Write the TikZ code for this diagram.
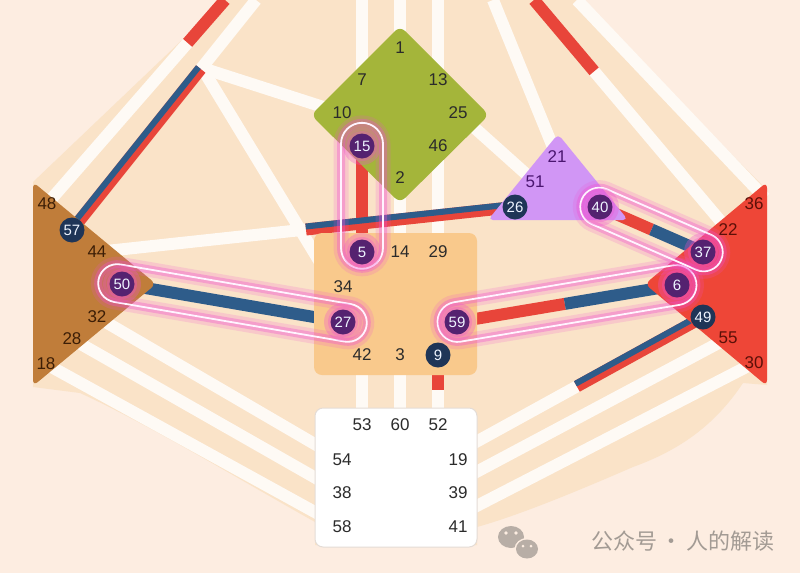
\documentclass[tikz,border=0pt]{standalone}
\usepackage{fontspec}
\setmainfont{Liberation Sans}
\newfontfamily\cjkfont{Noto Sans CJK SC}
\usetikzlibrary{calc,shapes.misc}

\begin{document}
\begin{tikzpicture}[x=1pt,y=-1pt,line cap=butt,
  chan/.style={line width=12pt, custcol_fe_fa_f5},
  redch/.style={line width=12pt, custcol_e8_45_3a},
  bluech/.style={line width=12pt, custcol_2e_5c_8a},
  halfblue/.style={line width=6pt, custcol_2e_5c_8a},
  gate/.style={inner sep=0, outer sep=0, font=\fontsize{17pt}{17pt}\selectfont},
  badge/.style={circle, inner sep=0, outer sep=0, minimum size=25pt, fill=custcol_1f_35_57, text=custcol_ee_f4_ff, font=\fontsize{15pt}{15pt}\selectfont},
  hibadge/.style={badge, fill=custcol_55_22_70},
  halo/.style={custcol_f0_50_d0, opacity=0.3},
  capsule/.style={rounded rectangle, inner sep=0, draw=custcol_ff_f4_ff, line width=1.8pt,
    preaction={draw=custcol_f0_50_d0, line width=15pt, draw opacity=0.18},
    preaction={draw=custcol_f0_50_d0, line width=8pt, draw opacity=0.35}},
  hubshape/.style={rounded corners=7pt}
]
\useasboundingbox (0,0) rectangle (800,573);
\definecolor{custcol_fd_ed_e1}{RGB}{253, 237, 225}
\definecolor{custcol_fa_e3_c8}{RGB}{250, 227, 200}
\definecolor{custcol_fe_fa_f5}{RGB}{254, 250, 245}
\definecolor{custcol_e8_45_3a}{RGB}{232, 69, 58}
\definecolor{custcol_2e_5c_8a}{RGB}{46, 92, 138}
\definecolor{custcol_a4_b5_3a}{RGB}{164, 181, 58}
\definecolor{custcol_f9_c9_8c}{RGB}{249, 201, 140}
\definecolor{custcol_c0_7d_3a}{RGB}{192, 125, 58}
\definecolor{custcol_ee_46_37}{RGB}{238, 70, 55}
\definecolor{custcol_d1_96_f5}{RGB}{209, 150, 245}
\definecolor{custcol_e4_dc_d6}{RGB}{228, 220, 214}
\definecolor{custcol_1f_35_57}{RGB}{31, 53, 87}
\definecolor{custcol_55_22_70}{RGB}{85, 34, 112}
\definecolor{custcol_f0_50_d0}{RGB}{240, 80, 208}
\definecolor{custcol_ff_f4_ff}{RGB}{255, 244, 255}
\definecolor{custcol_ee_f4_ff}{RGB}{238, 244, 255}
\definecolor{custcol_2b_2b_2b}{RGB}{43, 43, 43}
\definecolor{custcol_3c_1e_06}{RGB}{60, 30, 6}
\definecolor{custcol_5c_10_08}{RGB}{92, 16, 8}
\definecolor{custcol_4b_16_70}{RGB}{75, 22, 112}
\definecolor{custcol_b8_ae_a6}{RGB}{184, 174, 166}
\definecolor{custcol_a3_9b_94}{RGB}{163, 155, 148}
% background and body
\fill[custcol_fd_ed_e1] (0,0) rectangle (800,573);
\fill[custcol_fa_e3_c8] (224,0) -- (577,0) -- (767,190) -- (767,385) -- (743,383)
  .. controls (715,425) and (680,450) .. (633,467) .. controls (580,490) and (520,515) .. (477,527)
  -- (477,545) -- (315,545) -- (315,522) .. controls (240,480) and (150,425) .. (80,393) -- (33,387) -- (33,182) -- cycle;
% gates, G center
\coordinate (g1) at (400,48);
\coordinate (g7) at (362,80);
\coordinate (g13) at (438,80);
\coordinate (g10) at (342,113);
\coordinate (g25) at (458,113);
\coordinate (g15) at (362,146);
\coordinate (g46) at (438,146);
\coordinate (g2) at (400,178);
% sacral
\coordinate (g5) at (362,252);
\coordinate (g14) at (400,252);
\coordinate (g29) at (438,252);
\coordinate (g34) at (343,287);
\coordinate (g27) at (343,322);
\coordinate (g59) at (457,322);
\coordinate (g42) at (362,355);
\coordinate (g3) at (400,355);
\coordinate (g9) at (438,355);
% root
\coordinate (g53) at (362,425);
\coordinate (g60) at (400,425);
\coordinate (g52) at (438,425);
\coordinate (g54) at (342,460);
\coordinate (g19) at (458,460);
\coordinate (g38) at (342,493);
\coordinate (g39) at (458,493);
\coordinate (g58) at (342,527);
\coordinate (g41) at (458,527);
% spleen
\coordinate (g48) at (47,204);
\coordinate (g57) at (72,230);
\coordinate (g44) at (97,252);
\coordinate (g50) at (122,284);
\coordinate (g32) at (97,317);
\coordinate (g28) at (72,339);
\coordinate (g18) at (46,364);
% solar plexus
\coordinate (g36) at (754,204);
\coordinate (g22) at (728,230);
\coordinate (g37) at (703,252);
\coordinate (g6) at (677,285);
\coordinate (g49) at (703,317);
\coordinate (g55) at (728,338);
\coordinate (g30) at (754,363);
% ego
\coordinate (g21) at (557,157);
\coordinate (g51) at (535,182);
\coordinate (g26) at (515,207);
\coordinate (g40) at (600,207);
% free ends
\coordinate (t31) at (362,0);
\coordinate (t8) at (400,0);
\coordinate (t33) at (438,0);
\coordinate (t16) at (225,0);
\coordinate (t20) at (256,0);
\coordinate (t45) at (493,0);
\coordinate (t12) at (534,0);
\coordinate (t35) at (577,0);
\coordinate (jn) at (202,68);
\coordinate (in34) at (335,287);
\coordinate (in36) at (765,198);
\coordinate (r19) at (465,448);
\coordinate (r39) at (465,478);
\coordinate (r41) at (465,512);
\coordinate (c9) at (438,390);
\coordinate (m16) at ($(g48)!0.79!(t16)$);
\coordinate (m20) at ($(g57)!0.7!(t20)$);
\coordinate (m12) at ($(g22)!0.69!(t12)$);
\coordinate (m26) at ($(g44)!0.5!(g26)$);
\coordinate (m19) at ($(r19)!0.47!(g49)$);
\coordinate (m6) at ($(g59)!0.49!(g6)$);
\coordinate (m37) at ($(g40)!0.5!(g37)$);
% channels
\draw[chan] (t31) -- (g7);
\draw[chan] (t8) -- (g1);
\draw[chan] (t33) -- (g13);
\draw[chan] (t45) -- (g21);
\draw[chan] (t35) -- (in36);
\draw[chan] (g22) -- (m12);
\draw[redch] (m12) -- (t12);
\draw[chan] (g48) -- (m16);
\draw[redch] (m16) -- (t16);
\draw[chan] (jn) -- (g10);
\draw[chan] (jn) -- (in34);
\draw[chan] (m20) -- (t20);
\draw[redch] (g57) -- (m20);
\draw[halfblue] ($(g57)!3pt!90:(m20)$) -- ($(m20)!3pt!-90:(g57)$);
\draw[chan] (g25) -- (g51);
\draw[chan] (g2) -- (g14);
\draw[chan] (g46) -- (g29);
\draw[redch] (g15) -- (g5);
\draw[chan] (g44) -- (m26);
\draw[redch] (m26) -- (g26);
\draw[halfblue] ($(m26)!3pt!90:(g26)$) -- ($(g26)!3pt!-90:(m26)$);
\draw[chan] (g42) -- (g53);
\draw[chan] (g3) -- (g60);
\draw[chan] (g9) -- (g52);
\draw[redch] (g9) -- (c9);
\draw[bluech] (g50) -- (g27);
\draw[redch] (g59) -- (m6);
\draw[bluech] (m6) -- (g6);
\draw[redch] (g40) -- (m37);
\draw[bluech] (m37) -- (g37);
\draw[chan] (g32) -- (g54);
\draw[chan] (g28) -- (g38);
\draw[chan] (g18) -- (g58);
\draw[chan] (r19) -- (m19);
\draw[redch] (m19) -- (g49);
\draw[halfblue] ($(m19)!3pt!90:(g49)$) -- ($(g49)!3pt!-90:(m19)$);
\draw[chan] (r39) -- (g55);
\draw[chan] (r41) -- (g30);
% centers
\fill[custcol_a4_b5_3a, hubshape] (400,26) -- (489,115) -- (400,203) -- (311,115) -- cycle;
\fill[custcol_f9_c9_8c, rounded corners=8pt] (314,233) rectangle (477,375);
\filldraw[fill=white, draw=custcol_e4_dc_d6, line width=1pt, rounded corners=8pt] (315,408) rectangle (477,547);
\fill[custcol_c0_7d_3a, rounded corners=6pt] (33,182) -- (156,284) -- (33,386) -- cycle;
\fill[custcol_ee_46_37, rounded corners=6pt] (767,182) -- (767,386) -- (645,284) -- cycle;
\fill[custcol_d1_96_f5, rounded corners=5pt] (558,134) -- (628,220) -- (488,220) -- cycle;
% highlighted pairs
\path (g15) -- (g5) node[capsule, pos=0.47, sloped, minimum width=146pt, minimum height=42pt] (cap15) {};
\path (g50) -- (g27) node[capsule, midway, sloped, minimum width=272pt, minimum height=38pt] (cap50) {};
\path (g59) -- (g6) node[capsule, midway, sloped, minimum width=262pt, minimum height=40pt] (cap59) {};
\path (g40) -- (g37) node[capsule, midway, sloped, minimum width=152pt, minimum height=38pt] (cap40) {};
\fill[halo] (g15) circle (19);
\fill[halo] (g5) circle (19);
\fill[halo] (g50) circle (19);
\fill[halo] (g27) circle (19);
\fill[halo] (g59) circle (19);
\fill[halo] (g6) circle (19);
\fill[halo] (g40) circle (19);
\fill[halo] (g37) circle (19);
\fill[halo] (g15) circle (15);
\fill[halo] (g5) circle (15);
\fill[halo] (g50) circle (15);
\fill[halo] (g27) circle (15);
\fill[halo] (g59) circle (15);
\fill[halo] (g6) circle (15);
\fill[halo] (g40) circle (15);
\fill[halo] (g37) circle (15);
% labels, G
\node[gate, text=custcol_2b_2b_2b] (n1) at (g1) {1};
\node[gate, text=custcol_2b_2b_2b] (n7) at (g7) {7};
\node[gate, text=custcol_2b_2b_2b] (n13) at (g13) {13};
\node[gate, text=custcol_2b_2b_2b] (n10) at (g10) {10};
\node[gate, text=custcol_2b_2b_2b] (n25) at (g25) {25};
\node[hibadge] (n15) at (g15) {15};
\node[gate, text=custcol_2b_2b_2b] (n46) at (g46) {46};
\node[gate, text=custcol_2b_2b_2b] (n2) at (g2) {2};
% sacral
\node[hibadge] (n5) at (g5) {5};
\node[gate, text=custcol_2b_2b_2b] (n14) at (g14) {14};
\node[gate, text=custcol_2b_2b_2b] (n29) at (g29) {29};
\node[gate, text=custcol_2b_2b_2b] (n34) at (g34) {34};
\node[hibadge] (n27) at (g27) {27};
\node[hibadge] (n59) at (g59) {59};
\node[gate, text=custcol_2b_2b_2b] (n42) at (g42) {42};
\node[gate, text=custcol_2b_2b_2b] (n3) at (g3) {3};
\node[badge] (n9) at (g9) {9};
% root
\node[gate, text=custcol_2b_2b_2b] (n53) at (g53) {53};
\node[gate, text=custcol_2b_2b_2b] (n60) at (g60) {60};
\node[gate, text=custcol_2b_2b_2b] (n52) at (g52) {52};
\node[gate, text=custcol_2b_2b_2b] (n54) at (g54) {54};
\node[gate, text=custcol_2b_2b_2b] (n19) at (g19) {19};
\node[gate, text=custcol_2b_2b_2b] (n38) at (g38) {38};
\node[gate, text=custcol_2b_2b_2b] (n39) at (g39) {39};
\node[gate, text=custcol_2b_2b_2b] (n58) at (g58) {58};
\node[gate, text=custcol_2b_2b_2b] (n41) at (g41) {41};
% spleen
\node[gate, text=custcol_3c_1e_06] (n48) at (g48) {48};
\node[badge] (n57) at (g57) {57};
\node[gate, text=custcol_3c_1e_06] (n44) at (g44) {44};
\node[hibadge] (n50) at (g50) {50};
\node[gate, text=custcol_3c_1e_06] (n32) at (g32) {32};
\node[gate, text=custcol_3c_1e_06] (n28) at (g28) {28};
\node[gate, text=custcol_3c_1e_06] (n18) at (g18) {18};
% solar plexus
\node[gate, text=custcol_5c_10_08] (n36) at (g36) {36};
\node[gate, text=custcol_5c_10_08] (n22) at (g22) {22};
\node[hibadge] (n37) at (g37) {37};
\node[hibadge] (n6) at (g6) {6};
\node[badge] (n49) at (g49) {49};
\node[gate, text=custcol_5c_10_08] (n55) at (g55) {55};
\node[gate, text=custcol_5c_10_08] (n30) at (g30) {30};
% ego
\node[gate, text=custcol_4b_16_70] (n21) at (g21) {21};
\node[gate, text=custcol_4b_16_70] (n51) at (g51) {51};
\node[badge] (n26) at (g26) {26};
\node[hibadge] (n40) at (g40) {40};
% watermark
\fill[custcol_b8_ae_a6] (511,537) ellipse (13 and 11);
\fill[custcol_fd_ed_e1] (527,549) ellipse (12.5 and 11);
\fill[custcol_b8_ae_a6] (527,549) ellipse (11 and 9.5);
\fill[custcol_fd_ed_e1] (506,533) circle (1.8);
\fill[custcol_fd_ed_e1] (516,533) circle (1.8);
\fill[custcol_fd_ed_e1] (523,546) circle (1.5);
\fill[custcol_fd_ed_e1] (531,546) circle (1.5);
\node[anchor=west, inner sep=0, text=custcol_a3_9b_94, font=\cjkfont\fontsize{22pt}{22pt}\selectfont] (wm) at (591,541) {公众号\,·\,人的解读};
\end{tikzpicture}
\end{document}
